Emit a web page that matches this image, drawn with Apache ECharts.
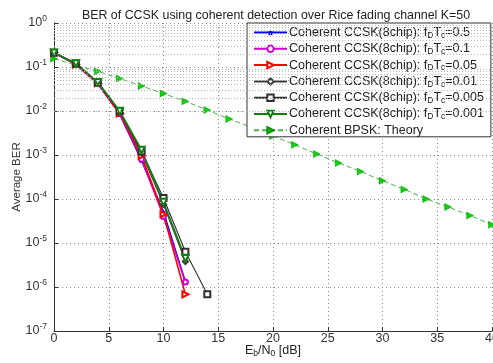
<!DOCTYPE html>
<html><head><meta charset="utf-8">
<script src="https://cdn.jsdelivr.net/npm/echarts@6/dist/echarts.min.js"></script>
<style>html,body{margin:0;padding:0;background:#fff}#c{width:493px;height:363px}</style>
</head><body><div id="c"></div>
<script>
var xCCSK = [0, 2, 4, 6, 8, 10, 12];
var xCCSK14 = [0, 2, 4, 6, 8, 10, 12, 14];
var ber05 = [0.21, 0.115, 0.042, 0.0085, 7.5e-4, 5e-5, 1.3e-6];
var ber01 = [0.21, 0.115, 0.042, 0.0088, 8e-4, 4e-5, 1.3e-6];
var ber005 = [0.21, 0.116, 0.043, 0.0088, 9.5e-4, 4.5e-5, 6.8e-7];
var ber001 = [0.21, 0.12, 0.044, 0.0095, 1.1e-3, 7.5e-5, 3.8e-6];
var ber0005 = [0.21, 0.12, 0.045, 0.01, 1.2e-3, 1.05e-4, 6.3e-6, 6.8e-7];
var ber0001 = [0.21, 0.12, 0.045, 0.01, 1.3e-3, 8.5e-5, 4.5e-6];
var xBPSK = [0,2,4,6,8,10,12,14,16,18,20,22,24,26,28,30,32,34,36,38,40];
var berBPSK = [0.155,0.11,0.08,0.055,0.037,0.025,0.0166,0.0105,0.0066,0.0043,0.0027,0.0017,0.00105,6.6e-4,4.2e-4,2.6e-4,1.65e-4,1.0e-4,6.6e-5,4.2e-5,2.6e-5];
var fdLabels = ['0.5','0.1','0.05','0.01','0.005','0.001'];
var xTicks = [0,5,10,15,20,25,30,35,40];

function pairs(xs, ys){ return ys.map(function(v,i){ return [xs[i], v]; }); }
var FONT = 'Liberation Sans, Arial, sans-serif';
var names = fdLabels.map(function(f){ return 'Coherent CCSK(8chip): f{sub|D}T{sub|c}=' + f; });
var bpskName = 'Coherent BPSK: Theory';

var minor = [];
for (var e = -7; e < 0; e++) for (var k = 2; k <= 9; k++) minor.push({yAxis: k * Math.pow(10, e)});

var star = 'path://M0,-10 L2.9,-4 L9.5,-3.1 L4.7,1.5 L5.9,8.1 L0,5 L-5.9,8.1 L-4.7,1.5 L-9.5,-3.1 L-2.9,-4 Z';

function ccsk(name, xs, ys, color, symbol, size, width, rot){
  return {name: name, type: 'line', data: pairs(xs, ys), symbol: symbol, symbolSize: size,
    symbolRotate: rot || 0, showAllSymbol: true,
    lineStyle: {color: color, width: width}, itemStyle: {color: color, borderWidth: 1.1}, z: 3};
}

var series = [
  {name: '_grid', type: 'line', data: [], silent: true,
   markLine: {silent: true, symbol: ['none','none'], label: {show: false},
     lineStyle: {type: [1,2], color: '#b8b8b8', width: 1}, data: minor}},
  ccsk(names[0], xCCSK, ber05, '#0000ff', star, 6, 1.6),
  ccsk(names[1], xCCSK, ber01, '#d000d0', 'emptyCircle', 5, 1.6),
  ccsk(names[2], xCCSK, ber005, '#ff0000', 'emptyTriangle', 6, 1.6, -90),
  ccsk(names[3], xCCSK, ber001, '#3a3a3a', 'emptyDiamond', 5, 1.1),
  ccsk(names[4], xCCSK14, ber0005, '#303030', 'emptyRect', 6, 1.1),
  ccsk(names[5], xCCSK, ber0001, '#108010', 'emptyTriangle', 6.5, 1.6, 180),
  {name: bpskName, type: 'line', data: pairs(xBPSK, berBPSK), symbol: 'triangle', symbolSize: 7,
   symbolRotate: -90, showAllSymbol: true,
   lineStyle: {color: '#50b050', width: 1, type: [5,3]},
   itemStyle: {color: '#10d010', borderColor: '#109010', borderWidth: 0.5}, z: 2}
];

var chart = echarts.init(document.getElementById('c'), null, {renderer: 'canvas'});
chart.setOption({
  animation: false,
  backgroundColor: '#fff',
  textStyle: {fontFamily: FONT},
  title: {text: 'BER of CCSK using coherent detection over Rice fading channel K=50',
    left: 271, textAlign: 'center', top: 5,
    textStyle: {fontSize: 12.4, fontWeight: 'normal', color: '#222', fontFamily: FONT}},
  grid: {left: 54, right: 1, top: 23, bottom: 32, show: false, outerBoundsMode: 'none', containLabel: false},
  legend: {
    data: names.concat([bpskName]), orient: 'vertical', left: 247, top: 23,
    backgroundColor: '#fff', borderColor: '#333', borderWidth: 1, borderRadius: 0,
    padding: [3, 7, 0, 6], itemGap: 2.3, itemWidth: 33, itemHeight: 8,
    textStyle: {fontSize: 12.5, color: '#222', fontFamily: FONT, padding: [0,0,0,-3],
      rich: {sub: {fontSize: 8.5, verticalAlign: 'bottom', padding: [6,0,0,0], fontFamily: FONT, color: '#222'}}}
  },
  xAxis: {type: 'value', min: 0, max: 40, interval: 5,
    name: 'E{sub|b}/N{sub|0} [dB]', nameLocation: 'middle', nameGap: 12, nameMoveOverlap: false,
    nameTextStyle: {fontSize: 12.5, color: '#222', fontFamily: FONT,
      rich: {sub: {fontSize: 8.5, verticalAlign: 'bottom', padding: [6,0,0,0], color: '#222'}}},
    axisLine: {show: true, onZero: false, lineStyle: {color: '#333', width: 1}},
    axisTick: {show: true, inside: true, length: 4, lineStyle: {color: '#333'}},
    axisLabel: {fontSize: 12.5, color: '#333', margin: 1, fontFamily: FONT, showMaxLabel: true,
      formatter: function(v){ return xTicks.indexOf(v) >= 0 ? String(v) : ''; }},
    splitLine: {show: true, lineStyle: {type: [1,3], color: '#8a8a8a', width: 1}}
  },
  yAxis: {type: 'log', logBase: 10, min: 1e-7, max: 1,
    name: 'Average BER', nameLocation: 'middle', nameGap: 31, nameRotate: 90, nameMoveOverlap: false,
    nameTextStyle: {fontSize: 11.5, color: '#333', fontFamily: FONT},
    axisLine: {show: true, lineStyle: {color: '#333', width: 1}},
    axisTick: {show: true, inside: true, length: 4, lineStyle: {color: '#333'}},
    axisLabel: {fontSize: 12.5, color: '#333', margin: 7, fontFamily: FONT,
      formatter: function(v){ var e = Math.round(Math.log10(v)); return '10{sup|' + e + '}'; },
      rich: {sup: {fontSize: 8.5, verticalAlign: 'top', padding: [0,0,8,0], color: '#333'}}},
    splitLine: {show: true, lineStyle: {type: [1,3], color: '#8a8a8a', width: 1}}
  },
  series: series
});
</script></body></html>
